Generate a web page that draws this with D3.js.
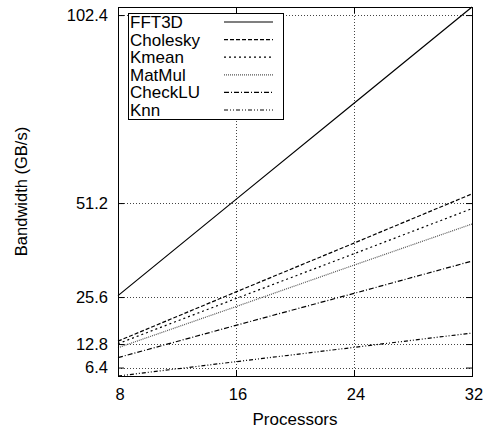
<!DOCTYPE html>
<html>
<head>
<meta charset="utf-8">
<script src="https://cdn.jsdelivr.net/npm/d3@7"></script>
<style>
  body { margin: 0; background: #fff; }
  text { font-family: "Liberation Sans", Arial, sans-serif; fill: #000; }
</style>
</head>
<body>
<div id="chart"></div>
<script>
// Chart size
var width = 490;
var height = 429;
var margin = { top: 7, right: 18, bottom: 53, left: 118 };

// Data
var processors = [8, 16, 24, 32];
var xTicks = [8, 16, 24, 32];
var yTicks = [6.4, 12.8, 25.6, 51.2, 102.4];
var seriesNames = ["FFT3D", "Cholesky", "Kmean", "MatMul", "CheckLU", "Knn"];
var fft3d    = [26.0, 52.2, 78.4, 104.6];
var cholesky = [13.6, 27.0, 40.3, 53.7];
var kmean    = [12.9, 25.2, 37.4, 49.7];
var matmul   = [11.8, 23.0, 34.3, 45.5];
var checklu  = [9.1, 17.9, 26.6, 35.4];
var knn      = [4.1, 8.0, 11.9, 15.8];
var seriesValues = [fft3d, cholesky, kmean, matmul, checklu, knn];

// line styles, one per series
var dashes = [null, "4,2", "2,3", "1,1", "5,2,1,2", "4,2,1,2,1,2"];
var strokes = ["#000", "#000", "#000", "#555", "#000", "#000"];

var innerW = width - margin.left - margin.right;
var innerH = height - margin.top - margin.bottom;

var svg = d3.select("#chart")
    .append("svg")
    .attr("width", width)
    .attr("height", height);

var g = svg.append("g")
    .attr("transform", "translate(" + margin.left + "," + margin.top + ")");

var x = d3.scaleLinear().domain([8, 32]).range([0, innerW]);
var y = d3.scaleLinear().domain([4.1, 104.6]).range([innerH, 0]);

// grid (dotted)
g.selectAll(".gx")
    .data(xTicks.slice(1, -1))
    .enter().append("line")
    .attr("x1", function(d) { return Math.round(x(d)) + 0.5; })
    .attr("x2", function(d) { return Math.round(x(d)) + 0.5; })
    .attr("y1", 0).attr("y2", innerH)
    .attr("stroke", "#444").attr("stroke-dasharray", "1,2");

g.selectAll(".gy")
    .data(yTicks)
    .enter().append("line")
    .attr("y1", function(d) { return Math.round(y(d)) + 0.5; })
    .attr("y2", function(d) { return Math.round(y(d)) + 0.5; })
    .attr("x1", 0).attr("x2", innerW)
    .attr("stroke", "#444").attr("stroke-dasharray", "1,2");

// series lines
var line = d3.line()
    .x(function(d, i) { return x(processors[i]); })
    .y(function(d) { return y(d); });

g.selectAll(".series")
    .data(seriesValues)
    .enter().append("path")
    .attr("d", line)
    .attr("fill", "none")
    .attr("stroke", function(d, i) { return strokes[i]; })
    .attr("stroke-width", 1.2)
    .attr("stroke-dasharray", function(d, i) { return dashes[i]; });

// axes: gnuplot style, inward ticks on all four sides
var xAxis = g.append("g")
    .attr("transform", "translate(0," + innerH + ")")
    .call(d3.axisBottom(x).tickValues(xTicks).tickSizeInner(-6).tickSizeOuter(0).tickPadding(12));
var xTop = g.append("g")
    .call(d3.axisTop(x).tickValues(xTicks).tickSizeInner(-6).tickSizeOuter(0).tickFormat(""));
var yAxis = g.append("g")
    .call(d3.axisLeft(y).tickValues(yTicks).tickSizeInner(-6).tickSizeOuter(0).tickPadding(10)
        .tickFormat(d3.format(".1f")));
var yRight = g.append("g")
    .attr("transform", "translate(" + innerW + ",0)")
    .call(d3.axisRight(y).tickValues(yTicks).tickSizeInner(-6).tickSizeOuter(0).tickFormat(""));

[xAxis, xTop, yAxis, yRight].forEach(function(a) {
    a.select(".domain").remove();
    a.selectAll("line").attr("stroke", "#000");
    a.selectAll("text")
        .style("font-family", "'Liberation Sans', Arial, sans-serif")
        .style("font-size", "16.5px")
        .attr("fill", "#000");
});
xAxis.selectAll("text").attr("dx", 1.5);

// frame
g.append("rect")
    .attr("x", 0.5).attr("y", 0.5)
    .attr("width", innerW).attr("height", innerH)
    .attr("fill", "none").attr("stroke", "#000");

// legend
var legend = svg.append("g").attr("transform", "translate(128,13)");
legend.append("rect")
    .attr("x", 0.5).attr("y", 0.5)
    .attr("width", 155).attr("height", 106)
    .attr("fill", "#fff").attr("stroke", "#000");

var rows = legend.selectAll(".row")
    .data(seriesNames)
    .enter().append("g")
    .attr("transform", function(d, i) { return "translate(0," + (9 + i * 17.6) + ")"; });

rows.append("text")
    .attr("x", 2)
    .attr("y", 6)
    .style("font-size", "17px")
    .text(function(d) { return d; });

rows.append("line")
    .attr("x1", 96).attr("x2", 145)
    .attr("y1", 0).attr("y2", 0)
    .attr("stroke", function(d, i) { return strokes[i]; })
    .attr("stroke-width", 1.2)
    .attr("stroke-dasharray", function(d, i) { return dashes[i]; });

// axis titles
svg.append("text")
    .attr("x", margin.left + innerW / 2)
    .attr("y", 425)
    .attr("text-anchor", "middle")
    .style("font-size", "17px")
    .text("Processors");

svg.append("text")
    .attr("transform", "translate(27," + (margin.top + innerH / 2) + ") rotate(-90)")
    .attr("text-anchor", "middle")
    .style("font-size", "16.5px")
    .text("Bandwidth (GB/s)");
</script>
</body>
</html>
